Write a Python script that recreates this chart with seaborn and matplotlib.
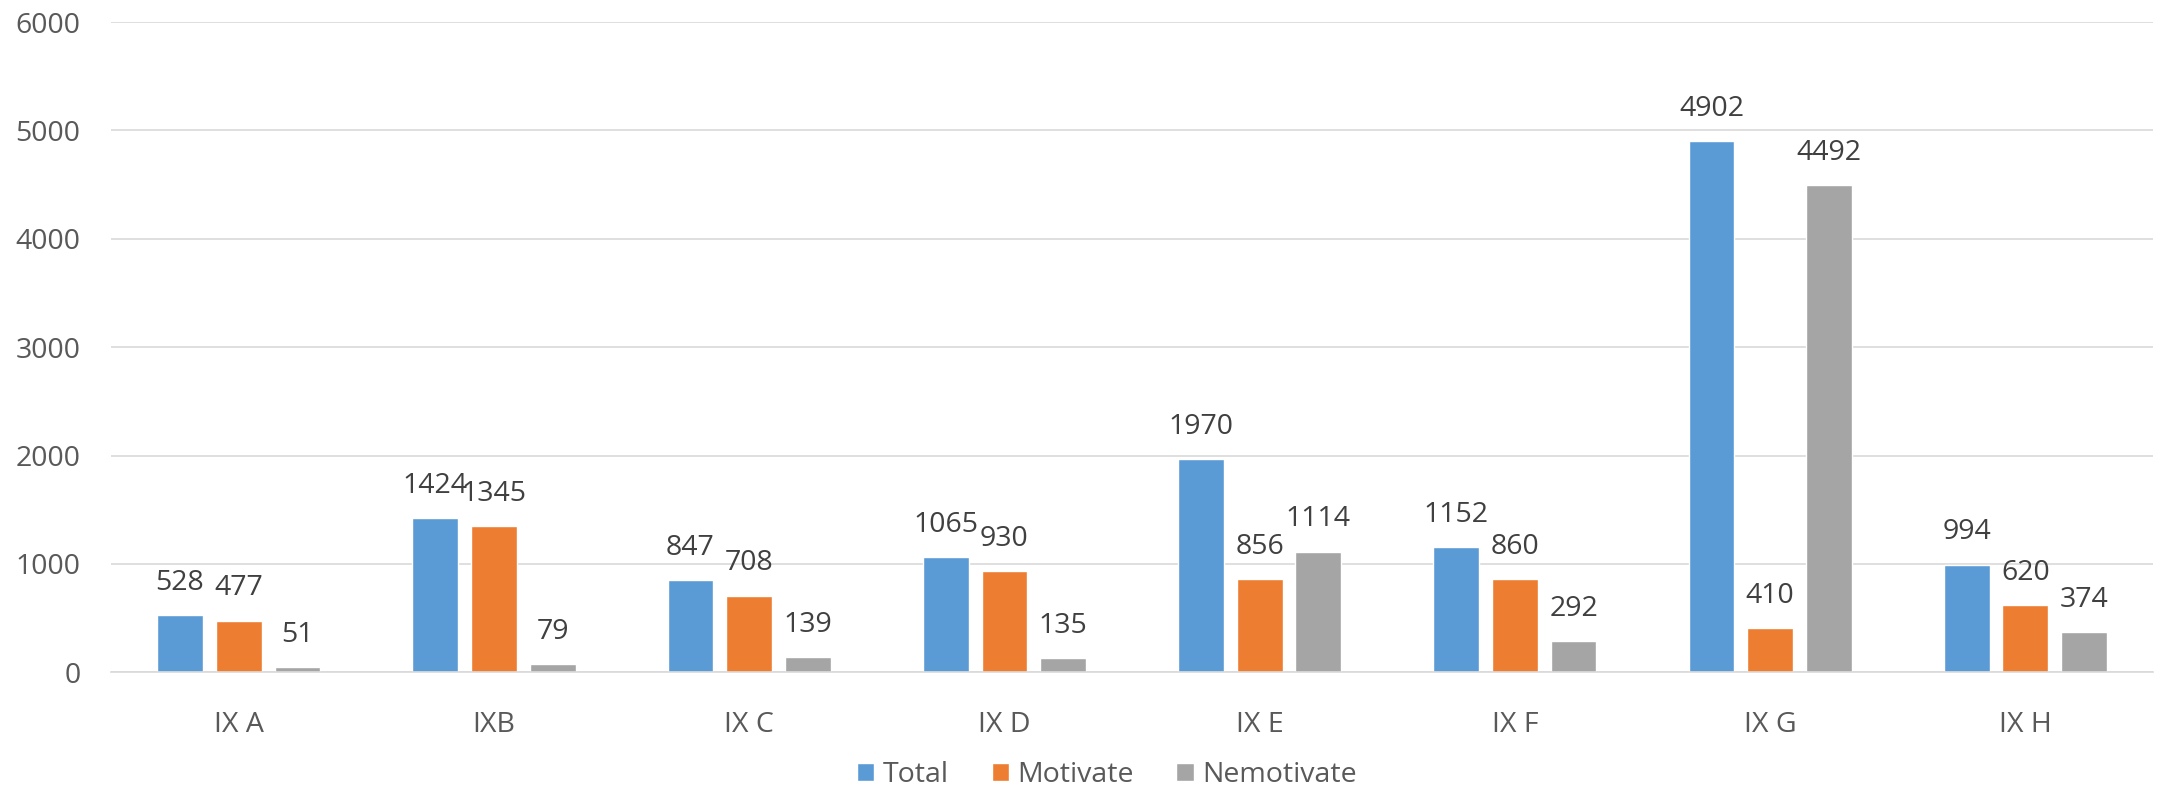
import pandas as pd
import numpy as np
import matplotlib
matplotlib.use('Agg')
import matplotlib.pyplot as plt
import seaborn as sns

# chart data
classes = ['IX A', 'IXB', 'IX C', 'IX D', 'IX E', 'IX F', 'IX G', 'IX H']
total = [528, 1424, 847, 1065, 1970, 1152, 4902, 994]
motivate = [477, 1345, 708, 930, 856, 860, 410, 620]
nemotivate = [51, 79, 139, 135, 1114, 292, 4492, 374]
series = ['Total', 'Motivate', 'Nemotivate']
colors = ['#5B9BD5', '#ED7D31', '#A5A5A5']

df = pd.DataFrame({'clasa': classes, 'Total': total,
                   'Motivate': motivate, 'Nemotivate': nemotivate})
df_long = df.melt(id_vars='clasa', var_name='serie', value_name='valoare')

sns.set_style('white')
plt.rcParams['font.family'] = ['Open Sans', 'DejaVu Sans']

fig = plt.figure(figsize=(21.78, 7.89), dpi=100)
ax = fig.add_axes([0.051, 0.148, 0.9375, 0.824])

sns.barplot(data=df_long, x='clasa', y='valoare', hue='serie',
            hue_order=series, palette=colors, width=0.69, gap=0.22,
            saturation=1, ax=ax, legend=True)

# value labels above bars
for cont in ax.containers:
    ax.bar_label(cont, padding=13, fontsize=20.5, color='#404040')

ax.set_ylim(0, 6000)
ax.set_yticks(range(0, 6001, 1000))
ax.yaxis.grid(True, color='#D9D9D9', linewidth=1.2)
ax.set_axisbelow(True)
for s in ['top', 'right', 'left']:
    ax.spines[s].set_visible(False)
ax.spines['bottom'].set_color('#D9D9D9')
ax.spines['bottom'].set_linewidth(1.2)
ax.tick_params(axis='both', length=0, labelsize=20.5, colors='#595959')
ax.tick_params(axis='y', pad=22)
ax.tick_params(axis='x', pad=28)
ax.set_xlabel('')
ax.set_ylabel('')

ax.legend(loc='center', bbox_to_anchor=(0.4877, -0.158), ncol=3,
          frameon=False, fontsize=20.5, labelcolor='#595959',
          handlelength=0.6, handleheight=0.6, handletextpad=0.3,
          columnspacing=1.5, borderpad=0)

fig.savefig('out.png', dpi=100)
